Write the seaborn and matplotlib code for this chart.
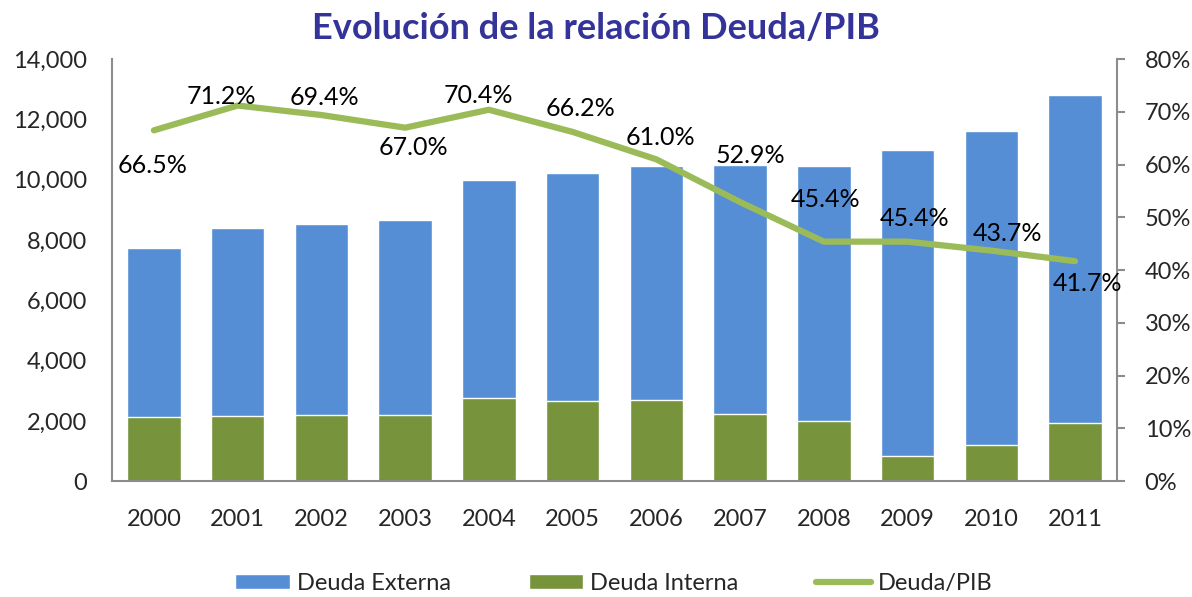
import matplotlib
matplotlib.use("Agg")

import matplotlib.pyplot as plt
import numpy as np
import pandas as pd
import seaborn as sns
from matplotlib.lines import Line2D
from matplotlib.patches import Patch
from matplotlib.ticker import FuncFormatter

years = ["2000", "2001", "2002", "2003", "2004", "2005",
         "2006", "2007", "2008", "2009", "2010", "2011"]
deuda_interna = [2140, 2160, 2210, 2180, 2770, 2670, 2680, 2220, 1990, 850, 1210, 1930]
deuda_externa = [5600, 6240, 6320, 6480, 7220, 7560, 7780, 8260, 8460, 10130, 10420, 10880]
deuda_pib = [66.5, 71.2, 69.4, 67.0, 70.4, 66.2, 61.0, 52.9, 45.4, 45.4, 43.7, 41.7]

# label offsets in pixels (dx, dy), placed by hand like the original chart
label_offsets = [(-1, -35), (-16, 9), (3, 18), (8, -20), (-10, 14), (8, 23),
                 (4, 22), (10, 47), (2, 42), (7, 23), (16, 17), (12, -22)]

BLUE = "#558ED5"
GREEN = "#77933C"
LINE = "#9BBB59"
AXIS = "#8C8C8C"

sns.set_style("white")
plt.rcParams["font.family"] = ["Lato", "DejaVu Sans"]

df = pd.DataFrame({"year": years, "interna": deuda_interna, "externa": deuda_externa})
df["total"] = df["interna"] + df["externa"]

fig = plt.figure(figsize=(11.92, 5.97), dpi=100)
ax = fig.add_axes([0.094, 0.194, 0.843, 0.707])

sns.barplot(data=df, x="year", y="total", color=BLUE, width=0.64, saturation=1, ax=ax)
sns.barplot(data=df, x="year", y="interna", color=GREEN, width=0.64, saturation=1, ax=ax)

ax.set_ylim(0, 14000)
ax.set_yticks(np.arange(0, 14001, 2000))
ax.yaxis.set_major_formatter(FuncFormatter(lambda v, _: f"{v:,.0f}"))
ax.set_xlim(-0.5, len(years) - 0.5)
ax.set_xlabel("")
ax.set_ylabel("")
ax.tick_params(axis="y", labelsize=17, length=0, pad=18)
ax.tick_params(axis="x", labelsize=17, length=0, pad=20)
for side in ["top", "right"]:
    ax.spines[side].set_visible(False)
for side in ["left", "bottom"]:
    ax.spines[side].set_color(AXIS)
    ax.spines[side].set_linewidth(1.5)

ax2 = ax.twinx()
sns.lineplot(x=np.arange(len(years)), y=deuda_pib, color=LINE, linewidth=4.5, ax=ax2)
ax2.set_ylim(0, 80)
ax2.set_yticks(np.arange(0, 81, 10))
ax2.yaxis.set_major_formatter(FuncFormatter(lambda v, _: f"{v:.0f}%"))
ax2.tick_params(axis="y", direction="out", labelsize=17, length=6, width=1.5,
                color=AXIS, pad=14)
for side in ["top", "left", "bottom"]:
    ax2.spines[side].set_visible(False)
ax2.spines["right"].set_color(AXIS)
ax2.spines["right"].set_linewidth(1.5)

for i, (val, off) in enumerate(zip(deuda_pib, label_offsets)):
    ax2.annotate(f"{val:.1f}%", (i, val), xytext=off, textcoords="offset pixels",
                 ha="center", va="center", fontsize=18, color="black")

fig.text(0.5, 0.952, "Evolución de la relación Deuda/PIB", ha="center", va="center",
         fontsize=26, fontweight="bold", color="#333399")

handles = [Patch(facecolor=BLUE, label="Deuda Externa"),
           Patch(facecolor=GREEN, label="Deuda Interna"),
           Line2D([0], [0], color=LINE, linewidth=4.5, label="Deuda/PIB")]
fig.legend(handles=handles, loc="center", bbox_to_anchor=(0.515, 0.023), ncol=3,
           frameon=False, fontsize=17, handlelength=2.3, handleheight=0.6,
           handletextpad=0.3, columnspacing=3.3)

fig.savefig("out.png", dpi=100)
